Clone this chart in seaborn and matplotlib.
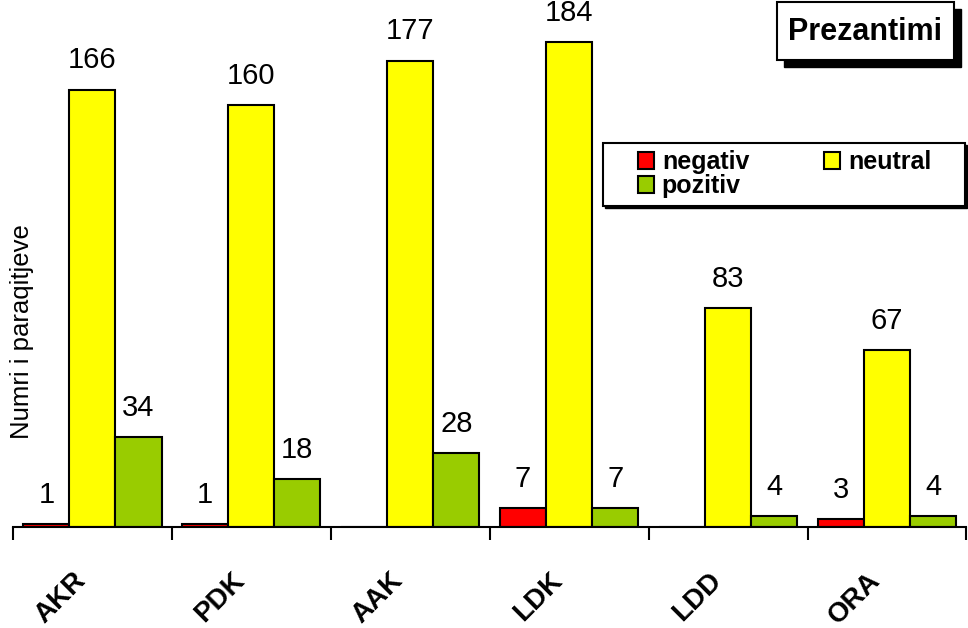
import pandas as pd
import seaborn as sns
import matplotlib.pyplot as plt
import matplotlib.transforms as mtransforms

# data
categories = ["AKR", "PDK", "AAK", "LDK", "LDD", "ORA"]
negativ = [1, 1, 0, 7, 0, 3]
neutral = [166, 160, 177, 184, 83, 67]
pozitiv = [34, 18, 28, 7, 4, 4]

series_names = ["negativ", "neutral", "pozitiv"]
series_colors = ["#FF0000", "#FFFF00", "#99CC00"]

# long-form table for seaborn
df = pd.DataFrame({
    "Kategoria": categories * 3,
    "Seria": ["negativ"] * 6 + ["neutral"] * 6 + ["pozitiv"] * 6,
    "Numri": negativ + neutral + pozitiv,
})

sns.set_style("white")
plt.rcParams["font.family"] = ["Liberation Sans", "DejaVu Sans"]
plt.rcParams["text.color"] = "black"
plt.rcParams["axes.labelcolor"] = "black"
plt.rcParams["xtick.color"] = "black"

W, H = 968, 628
fig = plt.figure(figsize=(W / 100, H / 100), dpi=100)
ax = fig.add_axes([0.0134, 0.161, 0.985, 0.839])


def px(x, y):
    # pixel (from top-left) -> figure fraction
    return x / W, 1 - y / H


sns.barplot(data=df, x="Kategoria", y="Numri", hue="Seria", order=categories,
            hue_order=series_names, palette=series_colors, width=0.87,
            edgecolor="black", linewidth=1.5, saturation=1, ax=ax, legend=False)

# value labels above bars (no label for zero)
for container in ax.containers:
    labels = [str(int(v)) if v > 0 else "" for v in container.datavalues]
    ax.bar_label(container, labels=labels, padding=11, fontsize=21, color="black")

ax.set_ylim(0, 200)
ax.set_xlim(-0.5, 5.5)
ax.set_yticks([])
ax.set_xlabel("")
ax.set_ylabel("Numri i paraqitjeve", fontsize=18.5, color="black")
ax.yaxis.set_label_coords(0.022, 0.37)

for side in ["left", "top", "right"]:
    ax.spines[side].set_visible(False)
ax.spines["bottom"].set_linewidth(1.5)
ax.spines["bottom"].set_color("black")

# tick marks at category boundaries
ax.set_xticks([i - 0.5 for i in range(len(categories) + 1)], minor=True)
ax.tick_params(axis="x", which="minor", length=9, width=1.5, direction="out", color="black", bottom=True)
ax.tick_params(axis="x", which="major", length=0, pad=36, labelcolor="black")
shift = mtransforms.ScaledTranslation(-0.11, 0, fig.dpi_scale_trans)
for lbl in ax.get_xticklabels():
    lbl.set_rotation(45)
    lbl.set_ha("right")
    lbl.set_va("center")
    lbl.set_rotation_mode("anchor")
    lbl.set_fontsize(20)
    lbl.set_fontweight("bold")
    lbl.set_transform(lbl.get_transform() + shift)


def shadow_box(x0, y0, x1, y1, off):
    # white box with black border and a solid black drop shadow
    fx0, fy1 = px(x0, y0)
    fx1, fy0 = px(x1, y1)
    dx, dy = off / W, off / H
    fig.patches.append(plt.Rectangle((fx0 + dx, fy0 - dy), fx1 - fx0, fy1 - fy0,
                                     transform=fig.transFigure, facecolor="black",
                                     edgecolor="black", zorder=5))
    fig.patches.append(plt.Rectangle((fx0, fy0), fx1 - fx0, fy1 - fy0,
                                     transform=fig.transFigure, facecolor="white",
                                     edgecolor="black", linewidth=1.5, zorder=6))


# legend box
shadow_box(603, 143, 965, 206, 2)
handles = [plt.Rectangle((0, 0), 1, 1, facecolor=c, edgecolor="black", linewidth=1.5)
           for c in series_colors]
order = [0, 2, 1]  # rows read negativ, neutral / pozitiv
leg = fig.legend([handles[i] for i in order], [series_names[i] for i in order],
                 ncol=2, loc="upper left", bbox_to_anchor=px(638, 150),
                 prop={"weight": "bold", "size": 18}, frameon=False,
                 handlelength=0.65, handleheight=0.65, handletextpad=0.3,
                 columnspacing=3.0, labelspacing=0.0, borderpad=0, borderaxespad=0)
leg.set_zorder(7)

# title box
shadow_box(777, 2, 954, 60, 7)
fig.text(*px(865.5, 32), "Prezantimi", ha="center", va="center", fontsize=22,
         fontweight="bold", zorder=7)

fig.savefig("out.png", dpi=100)
